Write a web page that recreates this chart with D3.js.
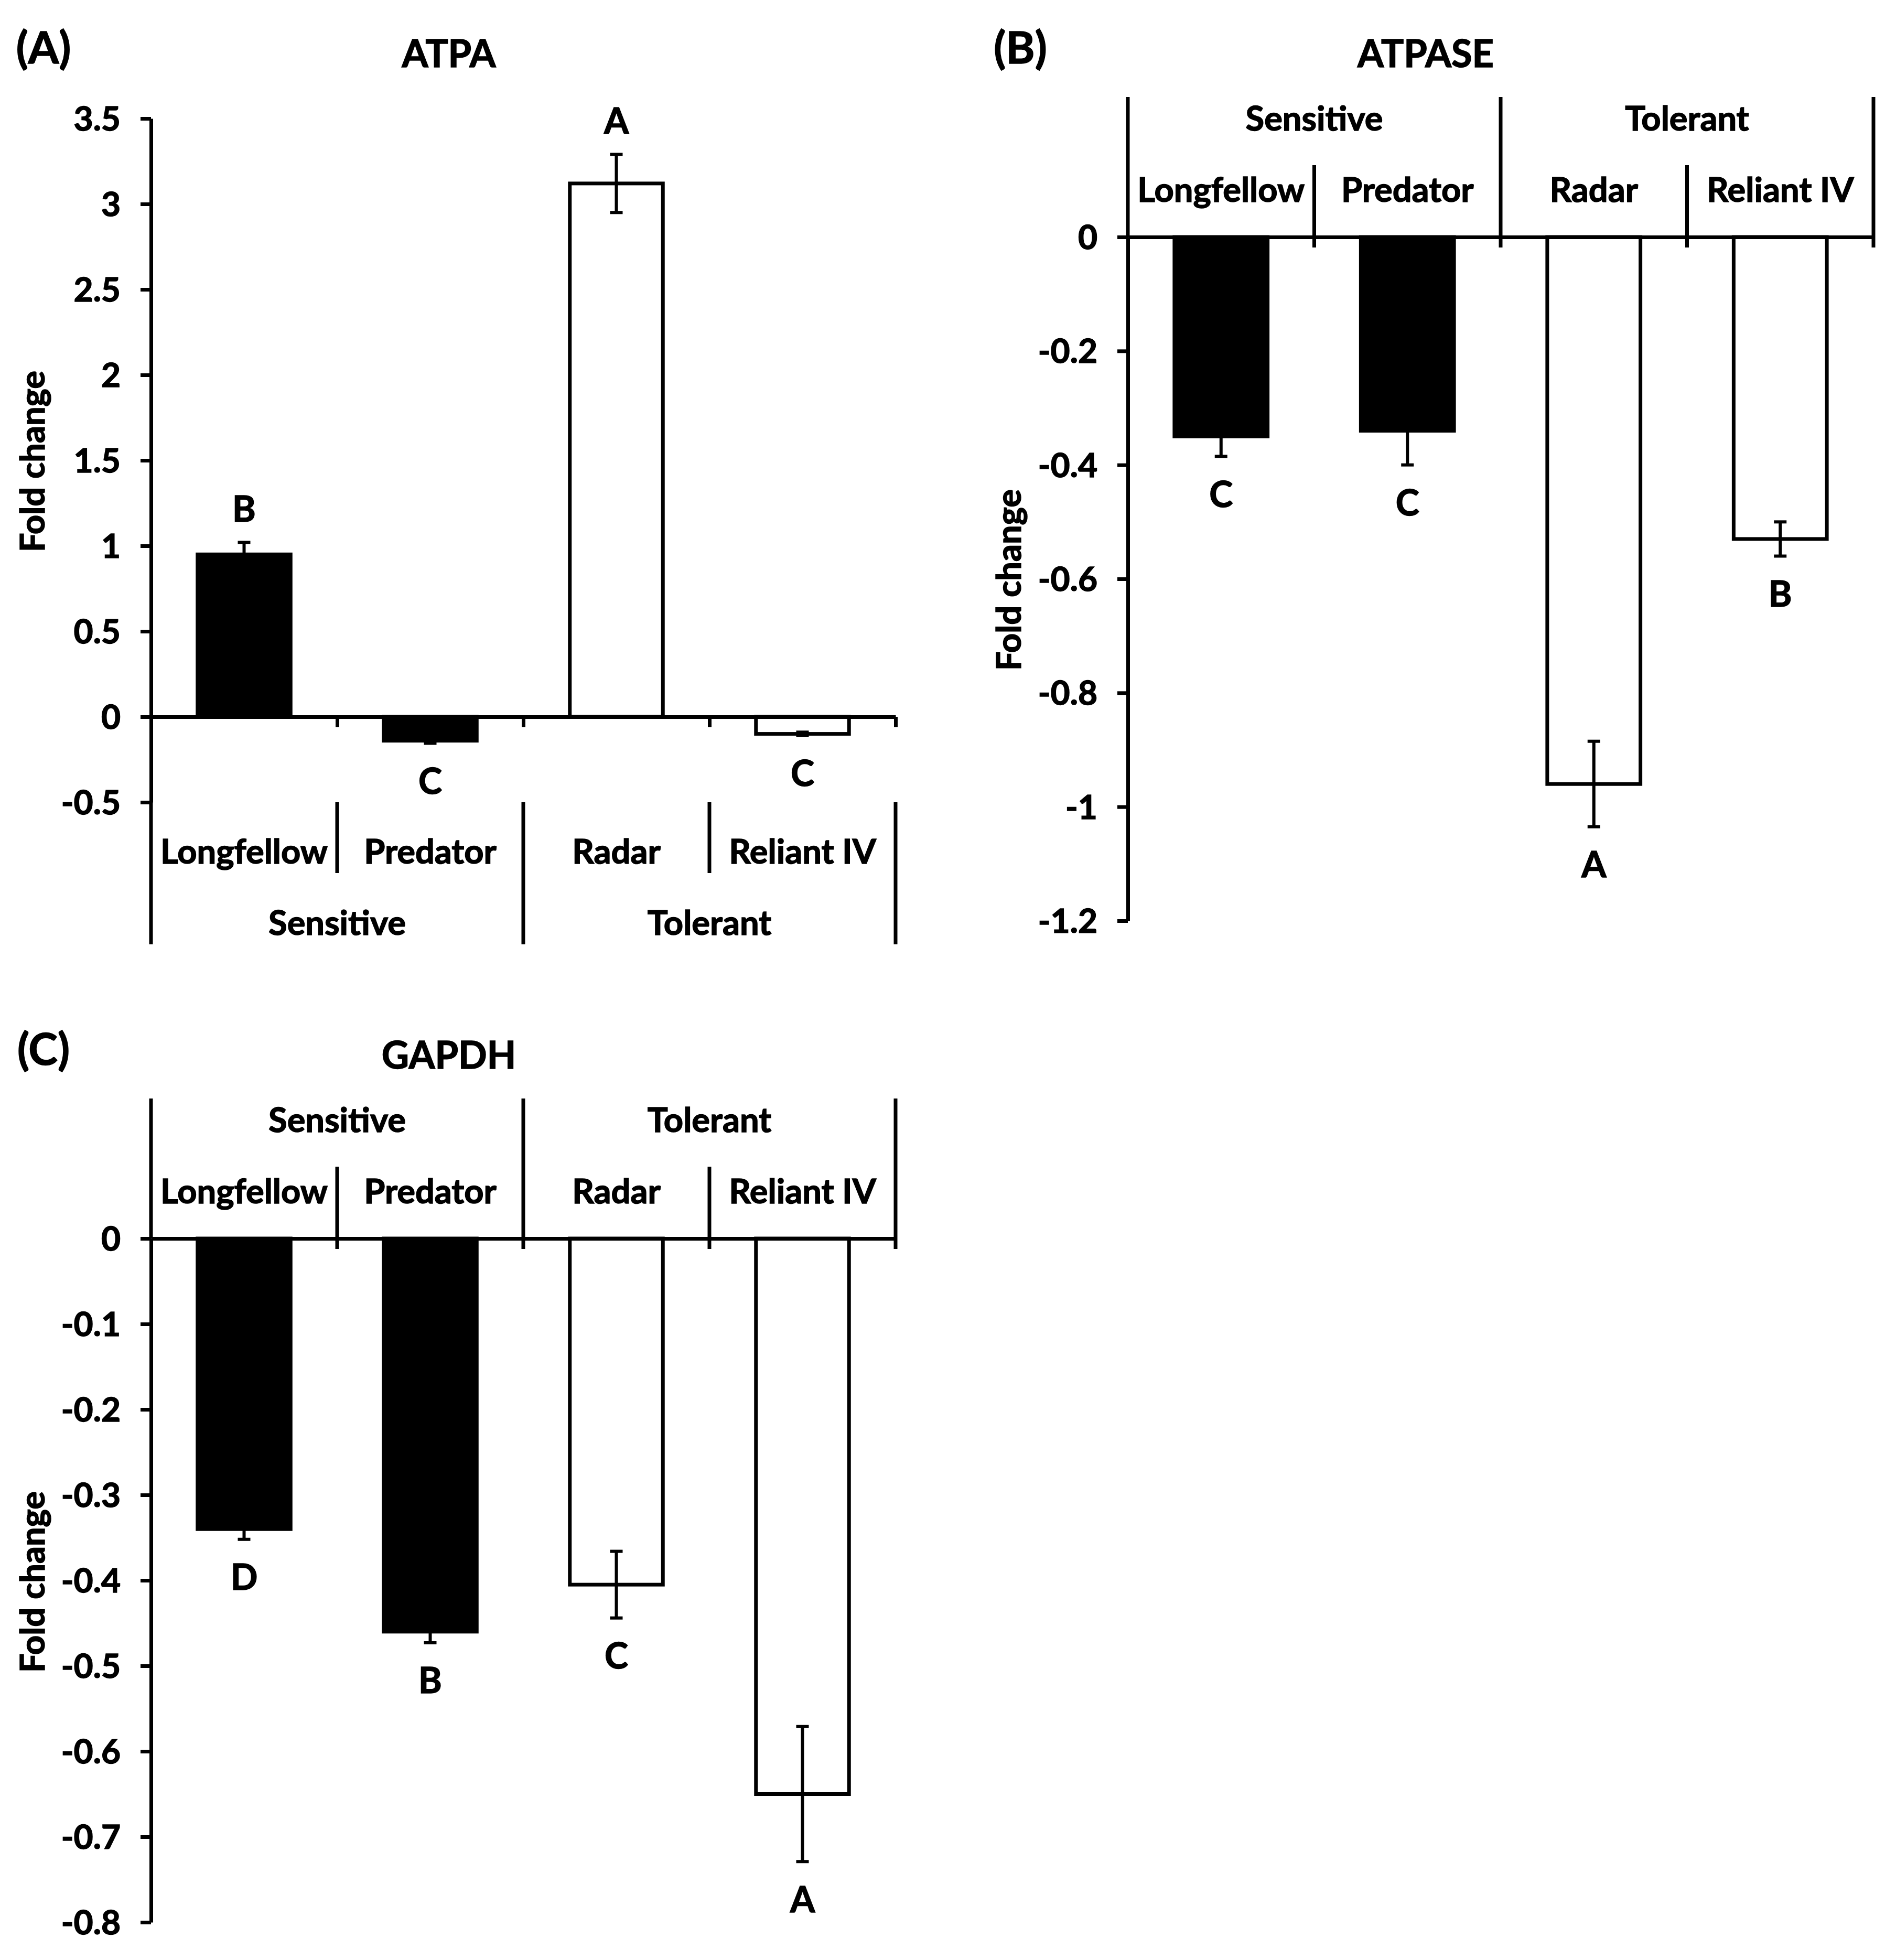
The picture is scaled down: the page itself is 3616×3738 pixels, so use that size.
<!DOCTYPE html>
<html>
<head>
<meta charset="utf-8">
<script src="https://cdn.jsdelivr.net/npm/d3@7"></script>
<style>
  body { margin: 0; background: #fff; }
  text { font-family: Lato, "Open Sans", sans-serif; font-weight: bold; fill: #000; stroke: #000; stroke-width: 1.5px; }
</style>
</head>
<body>
<script>
const categories = ['Longfellow', 'Predator', 'Radar', 'Reliant IV'];
const groups = ['Sensitive', 'Tolerant'];
const groupOf = [0, 0, 1, 1];

const atpaValues = [0.95, -0.14, 3.12, -0.10];
const atpaErrors = [0.07, 0.015, 0.17, 0.01];
const atpaLetters = ['B', 'C', 'A', 'C'];
const atpaTicks = [-0.5, 0, 0.5, 1, 1.5, 2, 2.5, 3, 3.5];

const atpaseValues = [-0.35, -0.34, -0.96, -0.53];
const atpaseErrors = [0.035, 0.06, 0.075, 0.03];
const atpaseLetters = ['C', 'C', 'A', 'B'];
const atpaseTicks = [-1.2, -1, -0.8, -0.6, -0.4, -0.2, 0];

const gapdhValues = [-0.34, -0.46, -0.405, -0.65];
const gapdhErrors = [0.012, 0.013, 0.039, 0.079];
const gapdhLetters = ['D', 'B', 'C', 'A'];
const gapdhTicks = [-0.8, -0.7, -0.6, -0.5, -0.4, -0.3, -0.2, -0.1, 0];

const W = 3616, H = 3738;
const svg = d3.select('body').append('svg')
  .attr('width', W)
  .attr('height', H);

svg.append('rect').attr('width', W).attr('height', H).attr('fill', '#fff');

const LW = 7;
const FS = 65; // labels

function drawPanel(p) {
  const g = svg.append('g');

  const y = d3.scaleLinear().domain(p.domain).range([p.yBottom, p.yTop]);
  const x = d3.scaleBand().domain(categories).range([p.x0, p.x1]).padding(0);
  const xb = d3.scaleLinear().domain([0, 4]).range([p.x0, p.x1]);
  const barW = x.bandwidth() * 0.5;
  const y0 = y(0);

  // y axis
  const yAxis = d3.axisLeft(y)
    .tickValues(p.ticks)
    .tickFormat((d) => String(d))
    .tickSize(20)
    .tickSizeOuter(0)
    .tickPadding(38);
  const ya = g.append('g').attr('transform', `translate(${p.x0},0)`).call(yAxis);
  ya.select('.domain').attr('stroke-width', LW);
  ya.selectAll('.tick line').attr('stroke-width', LW);
  ya.selectAll('.tick text').attr('font-size', 64).attr('dy', '0.35em').attr('font-family', null);

  // bars
  const data = categories.map((c, i) => ({
    c, v: p.values[i], e: p.errors[i], l: p.letters[i], grp: groupOf[i]
  }));

  g.selectAll('rect.bar').data(data).enter().append('rect')
    .attr('class', 'bar')
    .attr('x', (d) => x(d.c) + (x.bandwidth() - barW) / 2)
    .attr('y', (d) => Math.min(y(d.v), y0))
    .attr('width', barW)
    .attr('height', (d) => Math.abs(y(d.v) - y0))
    .attr('fill', (d) => (d.grp === 0 ? '#000' : '#fff'))
    .attr('stroke', '#000')
    .attr('stroke-width', LW);

  // error bars
  const cap = 12;
  data.forEach((d) => {
    const cx = x(d.c) + x.bandwidth() / 2;
    const hi = y(d.v + d.e), lo = y(d.v - d.e);
    g.append('line').attr('x1', cx).attr('x2', cx).attr('y1', hi).attr('y2', lo)
      .attr('stroke', '#000').attr('stroke-width', 6);
    [hi, lo].forEach((yy) => {
      g.append('line').attr('x1', cx - cap).attr('x2', cx + cap).attr('y1', yy).attr('y2', yy)
        .attr('stroke', '#000').attr('stroke-width', 6);
    });
  });

  // significance letters
  g.selectAll('text.letter').data(data).enter().append('text')
    .attr('class', 'letter')
    .attr('x', (d) => x(d.c) + x.bandwidth() / 2)
    .attr('y', (d) => (d.v >= 0 ? y(d.v + d.e) - 66 : y(d.v - d.e) + 70))
    .attr('text-anchor', 'middle')
    .attr('dominant-baseline', 'central')
    .attr('font-size', 68)
    .text((d) => d.l);

  // zero line with boundary ticks
  const xAxis = d3.axisBottom(xb)
    .tickValues(p.tableBelow ? [1, 2, 3, 4] : [])
    .tickFormat('')
    .tickSize(20)
    .tickSizeOuter(0);
  const xa = g.append('g').attr('transform', `translate(0,${y0})`).call(xAxis);
  xa.select('.domain').attr('stroke-width', LW);
  xa.selectAll('.tick line').attr('stroke-width', LW);

  // category / group table
  const lines = g.append('g').attr('stroke', '#000').attr('stroke-width', LW);
  if (p.tableBelow) {
    const t0 = y(p.domain[0]);
    [0, 1, 2, 3, 4].forEach((k) => {
      const major = k % 2 === 0;
      lines.append('line').attr('x1', xb(k)).attr('x2', xb(k))
        .attr('y1', t0).attr('y2', t0 + (major ? 271 : 135));
    });
    categories.forEach((c) => {
      g.append('text').attr('x', x(c) + x.bandwidth() / 2).attr('y', t0 + 92)
        .attr('text-anchor', 'middle').attr('dominant-baseline', 'central')
        .attr('font-size', FS).text(c);
    });
    groups.forEach((gr, i) => {
      g.append('text').attr('x', xb(i * 2 + 1)).attr('y', t0 + 228)
        .attr('text-anchor', 'middle').attr('dominant-baseline', 'central')
        .attr('font-size', FS).text(gr);
    });
  } else {
    // y axis extends up to the top of the table
    lines.append('line').attr('x1', xb(0)).attr('x2', xb(0))
      .attr('y1', y0 - 267).attr('y2', y0);
    [1, 2, 3, 4].forEach((k) => {
      const major = k % 2 === 0;
      lines.append('line').attr('x1', xb(k)).attr('x2', xb(k))
        .attr('y1', y0 - (major ? 267 : 137)).attr('y2', y0 + 20);
    });
    categories.forEach((c) => {
      g.append('text').attr('x', x(c) + x.bandwidth() / 2).attr('y', y0 - 92)
        .attr('text-anchor', 'middle').attr('dominant-baseline', 'central')
        .attr('font-size', FS).text(c);
    });
    groups.forEach((gr, i) => {
      g.append('text').attr('x', xb(i * 2 + 1)).attr('y', y0 - 228)
        .attr('text-anchor', 'middle').attr('dominant-baseline', 'central')
        .attr('font-size', FS).text(gr);
    });
  }

  // titles
  g.append('text').attr('x', p.titleX).attr('y', p.titleY)
    .attr('text-anchor', 'middle').attr('dominant-baseline', 'central')
    .attr('font-size', 72).text(p.title);
  g.append('text').attr('x', p.tagX).attr('y', p.tagY)
    .attr('text-anchor', 'middle').attr('dominant-baseline', 'central')
    .attr('font-size', 84).text(p.tag);

  // y label
  g.append('text')
    .attr('transform', `translate(${p.labelX},${p.labelY}) rotate(-90)`)
    .attr('text-anchor', 'middle').attr('dominant-baseline', 'central')
    .attr('font-size', 65).text('Fold change');
}

drawPanel({
  values: atpaValues, errors: atpaErrors, letters: atpaLetters, ticks: atpaTicks,
  domain: [-0.5, 3.5], yBottom: 1530, yTop: 226, x0: 288, x1: 1708,
  tableBelow: true, title: 'ATPA', titleX: 856, titleY: 100, tag: '(A)', tagX: 83, tagY: 88,
  labelX: 60, labelY: 880
});

drawPanel({
  values: atpaseValues, errors: atpaseErrors, letters: atpaseLetters, ticks: atpaseTicks,
  domain: [-1.2, 0], yBottom: 1756, yTop: 452, x0: 2151, x1: 3573,
  tableBelow: false, title: 'ATPASE', titleX: 2719, titleY: 100, tag: '(B)', tagX: 1946, tagY: 88,
  labelX: 1922, labelY: 1106
});

drawPanel({
  values: gapdhValues, errors: gapdhErrors, letters: gapdhLetters, ticks: gapdhTicks,
  domain: [-0.8, 0], yBottom: 3666, yTop: 2362, x0: 288, x1: 1708,
  tableBelow: false, title: 'GAPDH', titleX: 856, titleY: 2010, tag: '(C)', tagX: 83, tagY: 1998,
  labelX: 60, labelY: 3017
});
</script>
</body>
</html>
